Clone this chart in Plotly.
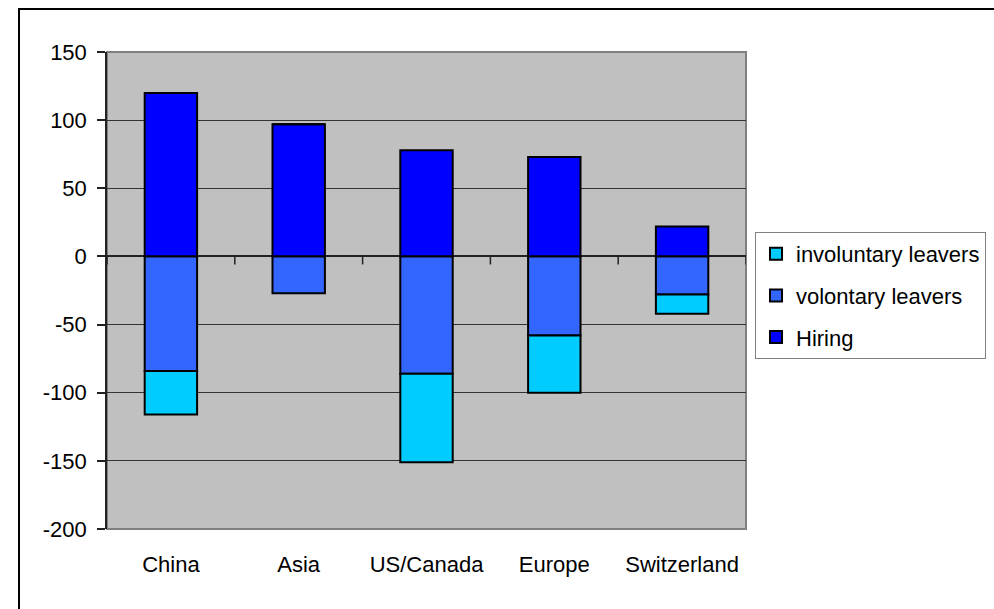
import plotly.graph_objects as go

# Headcount movements by region
categories = ["China", "Asia", "US/Canada", "Europe", "Switzerland"]
hiring = [120, 97, 78, 73, 22]
volontary_leavers = [-84, -27, -86, -58, -28]
involuntary_leavers = [-32, 0, -65, -42, -14]

y_ticks = [150, 100, 50, 0, -50, -100, -150, -200]
y_tick_labels = [str(v) for v in y_ticks]

# Canvas / plot-area geometry in pixels
W, H = 994, 609
PL, PT, PR, PB = 107, 52, 746, 529
FONT = dict(family="Liberation Sans, Arial, sans-serif", size=22, color="#000000")


def px_to_paper_x(px):
    return (px - PL) / (PR - PL)


def px_to_paper_y(py):
    return (PB - py) / (PB - PT)


fig = go.Figure()
fig.add_trace(go.Bar(name="Hiring", x=categories, y=hiring,
                     marker=dict(color="#0000FF", line=dict(color="#000000", width=2)),
                     legendgroup="hiring", legendrank=3))
fig.add_trace(go.Bar(name="volontary leavers", x=categories, y=volontary_leavers,
                     marker=dict(color="#3366FF", line=dict(color="#000000", width=2)),
                     legendgroup="volontary", legendrank=2))
fig.add_trace(go.Bar(name="involuntary leavers", x=categories, y=involuntary_leavers,
                     marker=dict(color="#00CCFF", line=dict(color="#000000", width=2)),
                     legendgroup="involuntary", legendrank=1))

shapes = []
# Outer chart frame (top and left edges visible)
shapes.append(dict(type="rect", xref="paper", yref="paper", layer="below",
                   x0=px_to_paper_x(19), x1=px_to_paper_x(W + 20),
                   y0=px_to_paper_y(9), y1=px_to_paper_y(H + 20),
                   line=dict(color="#000000", width=2), fillcolor="rgba(0,0,0,0)"))
# Plot-area frame
shapes.append(dict(type="rect", xref="paper", yref="paper", layer="below",
                   x0=0, x1=1, y0=0, y1=1,
                   line=dict(color="#808080", width=2), fillcolor="rgba(0,0,0,0)"))
# Category tick marks hanging below the zero line
for k in range(len(categories) + 1):
    shapes.append(dict(type="line", xref="x", yref="y",
                       x0=k - 0.5, x1=k - 0.5, ysizemode="pixel", yanchor=0,
                       y0=0, y1=-8, line=dict(color="#222222", width=1.5)))

fig.update_layout(
    width=W, height=H,
    margin=dict(l=PL, r=W - PR, t=PT, b=H - PB, pad=0, autoexpand=False),
    paper_bgcolor="#FFFFFF",
    plot_bgcolor="#C0C0C0",
    barmode="relative",
    bargap=0.59,
    font=FONT,
    showlegend=True,
    legend=dict(
        x=px_to_paper_x(755), y=px_to_paper_y(232),
        xanchor="left", yanchor="top",
        bgcolor="#FFFFFF", bordercolor="#808080", borderwidth=1,
        traceorder="grouped", tracegroupgap=10,
        font=FONT, itemsizing="constant",
    ),
    shapes=shapes,
)

fig.update_xaxes(
    range=[-0.5, len(categories) - 0.5],
    showgrid=False, zeroline=False, showline=False,
    ticks="", tickfont=FONT, ticklabelstandoff=20,
)
fig.update_yaxes(
    range=[-200, 150], tickvals=y_ticks, ticktext=y_tick_labels,
    showgrid=True, gridcolor="#333333", gridwidth=1,
    zeroline=True, zerolinecolor="#222222", zerolinewidth=1.5,
    showline=True, linecolor="#222222", linewidth=1.5,
    ticks="outside", ticklen=8, tickcolor="#222222", tickwidth=1.5,
    tickfont=FONT, ticklabelstandoff=6,
)

fig.write_html("out.html")
